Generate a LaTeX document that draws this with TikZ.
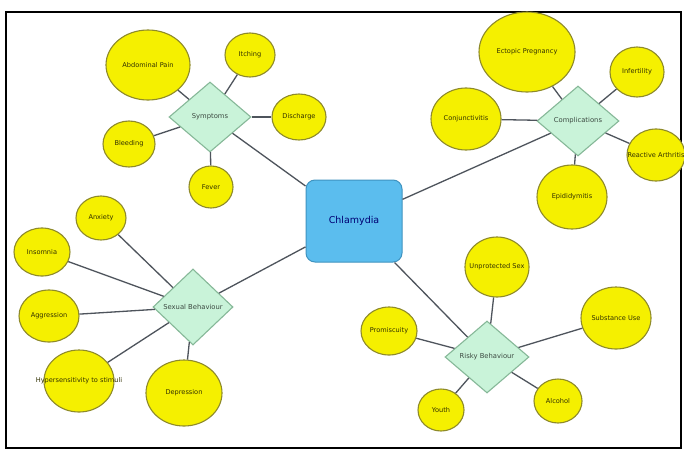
\documentclass[tikz,border=0pt]{standalone}
\usepackage{fontspec}
\setmainfont{DejaVu Sans}
\usetikzlibrary{shapes.geometric}
\definecolor{leaf}{HTML}{F5F000}
\definecolor{leafline}{HTML}{8E8A2A}
\definecolor{hub}{HTML}{C9F3D9}
\definecolor{hubline}{HTML}{86B898}
\definecolor{core}{HTML}{5BBDEE}
\definecolor{coreline}{HTML}{3F93C0}
\definecolor{wire}{HTML}{4E545C}
\begin{document}
\begin{tikzpicture}[x=1pt,y=-1pt,
  leaffont/.style={font=\fontsize{6.6}{7}\selectfont,text=black!80!leaf},
  leafnode/.style={ellipse,draw=leafline,fill=leaf,line width=1.1pt,inner sep=0pt,leaffont},
  % a fixed-size ellipse whose caption may run past its outline
  overtext/.style={label={[leaffont]center:#1}},
  hubnode/.style={diamond,draw=hubline,fill=hub,line width=1.1pt,inner sep=0pt,
    minimum width=82,minimum height=70,font=\fontsize{6.8}{7.5}\selectfont,text=black!70!hub},
  corenode/.style={rectangle,rounded corners=9pt,draw=coreline,fill=core,line width=1pt,
    minimum width=96,minimum height=82,font=\fontsize{9.5}{10}\selectfont,text=blue!45!black},
  link/.style={draw=wire,line width=1.3pt}]
\useasboundingbox (0,0) rectangle (684,450);
\fill[white] (0,0) rectangle (684,450);
\draw[line width=2.6pt] (6,12) rectangle (681,448);

% centre
\node[corenode] (c) at (354,221) {Chlamydia};

% symptoms
\node[hubnode] (s) at (210,117) {Symptoms};
\node[leafnode,minimum width=84,minimum height=70] (s1) at (148,65) {Abdominal Pain};
\node[leafnode,minimum width=50,minimum height=44] (s2) at (250,55) {Itching};
\node[leafnode,minimum width=54,minimum height=46] (s3) at (299,117) {Discharge};
\node[leafnode,minimum width=52,minimum height=46] (s4) at (129,144) {Bleeding};
\node[leafnode,minimum width=44,minimum height=42] (s5) at (211,187) {Fever};

% complications
\node[hubnode] (k) at (578,121) {Complications};
\node[leafnode,minimum width=96,minimum height=80] (k1) at (527,52) {Ectopic Pregnancy};
\node[leafnode,minimum width=54,minimum height=50] (k2) at (637,72) {Infertility};
\node[leafnode,minimum width=58,minimum height=52,overtext={Reactive Arthritis}] (k3) at (656,155) {};
\node[leafnode,minimum width=70,minimum height=62] (k4) at (466,119) {Conjunctivitis};
\node[leafnode,minimum width=70,minimum height=64] (k5) at (572,197) {Epididymitis};

% sexual behaviour
\node[hubnode,minimum width=80,minimum height=76] (b) at (193,307) {Sexual Behaviour};
\node[leafnode,minimum width=50,minimum height=44] (b1) at (101,218) {Anxiety};
\node[leafnode,minimum width=56,minimum height=48] (b2) at (42,252) {Insomnia};
\node[leafnode,minimum width=60,minimum height=52] (b3) at (49,316) {Aggression};
\node[leafnode,minimum width=70,minimum height=62,overtext={Hypersensitivity to stimuli}] (b4) at (79,381) {};
\node[leafnode,minimum width=76,minimum height=66] (b5) at (184,393) {Depression};

% risky behaviour
\node[hubnode,minimum width=84,minimum height=72] (r) at (487,357) {Risky Behaviour};
\node[leafnode,minimum width=64,minimum height=60,overtext={Unprotected Sex}] (r1) at (497,267) {};
\node[leafnode,minimum width=70,minimum height=62] (r2) at (616,318) {Substance Use};
\node[leafnode,minimum width=56,minimum height=48] (r3) at (389,331) {Promiscuity};
\node[leafnode,minimum width=46,minimum height=42] (r4) at (441,410) {Youth};
\node[leafnode,minimum width=48,minimum height=44] (r5) at (558,401) {Alcohol};

% connectors between the hubs and their nodes
\draw[link] (c) -- (s);
\draw[link] (c) -- (k);
\draw[link] (c) -- (b);
\draw[link] (c) -- (r);
\foreach \i in {1,...,5} {
  \draw[link] (s) -- (s\i);
  \draw[link] (k) -- (k\i);
  \draw[link] (b) -- (b\i);
  \draw[link] (r) -- (r\i);
}
\end{tikzpicture}
\end{document}
